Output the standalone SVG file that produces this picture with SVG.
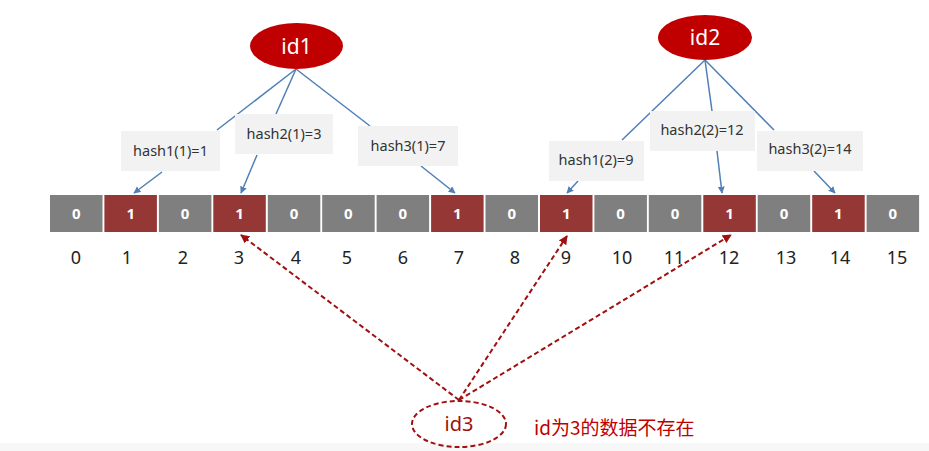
<svg xmlns="http://www.w3.org/2000/svg" width="929" height="451" viewBox="0 0 929 451">
<style>
  .cell0{fill:#7f7f7f}
  .cell1{fill:#953735}
  .bit{font-family:"Noto Sans","Liberation Sans",sans-serif;font-size:15px;font-weight:bold;fill:#fff;text-anchor:middle}
  .idx{font-family:"Noto Sans","Liberation Sans",sans-serif;font-size:18px;fill:#222;text-anchor:middle}
  .lbl{fill:#f2f2f2}
  .lbltxt{font-family:"Noto Sans","Liberation Sans",sans-serif;font-size:14.5px;fill:#333;text-anchor:middle}
  .node{fill:#c00000}
  .nodetxt{font-family:"Noto Sans","Liberation Sans",sans-serif;font-size:21px;fill:#fff;text-anchor:middle}
  .blue{stroke:#4f7fb5;stroke-width:1.5;fill:none}
  .red{stroke:#a01010;stroke-width:2;stroke-dasharray:5 3;fill:none}
</style>
<defs>
  <marker id="ab" viewBox="0 0 10 10" refX="9" refY="5" markerWidth="7" markerHeight="7" orient="auto" markerUnits="userSpaceOnUse">
    <path d="M0,0 L10,5 L0,10 z" fill="#4f7fb5"/>
  </marker>
  <marker id="ar" viewBox="0 0 10 10" refX="9" refY="5" markerWidth="9" markerHeight="9" orient="auto" markerUnits="userSpaceOnUse">
    <path d="M0,0 L10,5 L0,10 z" fill="#a01010"/>
  </marker>
</defs>
<rect x="0" y="0" width="929" height="451" fill="#fff"/>
<rect x="0" y="443" width="929" height="8" fill="#f7f7f7"/>

<g id="connectors">
  <line class="blue" x1="296" y1="69" x2="217" y2="130"/>
  <line class="blue" x1="296" y1="69" x2="276" y2="114"/>
  <line class="blue" x1="296" y1="69" x2="370" y2="126"/>
  <line class="blue" x1="162" y1="172" x2="134" y2="193" marker-end="url(#ab)"/>
  <line class="blue" x1="257" y1="155" x2="241" y2="193" marker-end="url(#ab)"/>
  <line class="blue" x1="421" y1="166" x2="455" y2="193" marker-end="url(#ab)"/>
  <line class="blue" x1="705" y1="60" x2="622" y2="140"/>
  <line class="blue" x1="705" y1="60" x2="712" y2="111"/>
  <line class="blue" x1="705" y1="60" x2="774" y2="130"/>
  <line class="blue" x1="578" y1="181" x2="567" y2="193" marker-end="url(#ab)"/>
  <line class="blue" x1="717" y1="151" x2="722" y2="193" marker-end="url(#ab)"/>
  <line class="blue" x1="814" y1="171" x2="835" y2="193" marker-end="url(#ab)"/>
  <line class="red" x1="459" y1="400" x2="241" y2="235" marker-end="url(#ar)"/>
  <line class="red" x1="459" y1="400" x2="567" y2="236" marker-end="url(#ar)"/>
  <line class="red" x1="459" y1="400" x2="731" y2="235" marker-end="url(#ar)"/>
</g>

<g id="bitarray">
  <rect class="cell0" x="50" y="195" width="52.5" height="37"/>
  <rect class="cell1" x="104.4" y="195" width="52.5" height="37"/>
  <rect class="cell0" x="158.9" y="195" width="52.5" height="37"/>
  <rect class="cell1" x="213.3" y="195" width="52.5" height="37"/>
  <rect class="cell0" x="267.8" y="195" width="52.5" height="37"/>
  <rect class="cell0" x="322.2" y="195" width="52.5" height="37"/>
  <rect class="cell0" x="376.6" y="195" width="52.5" height="37"/>
  <rect class="cell1" x="431.1" y="195" width="52.5" height="37"/>
  <rect class="cell0" x="485.5" y="195" width="52.5" height="37"/>
  <rect class="cell1" x="540" y="195" width="52.5" height="37"/>
  <rect class="cell0" x="594.4" y="195" width="52.5" height="37"/>
  <rect class="cell0" x="648.8" y="195" width="52.5" height="37"/>
  <rect class="cell1" x="703.3" y="195" width="52.5" height="37"/>
  <rect class="cell0" x="757.7" y="195" width="52.5" height="37"/>
  <rect class="cell1" x="812.2" y="195" width="52.5" height="37"/>
  <rect class="cell0" x="866.6" y="195" width="52.5" height="37"/>
  <text class="bit" x="76.2" y="219">0</text>
  <text class="bit" x="130.7" y="219">1</text>
  <text class="bit" x="185.1" y="219">0</text>
  <text class="bit" x="239.6" y="219">1</text>
  <text class="bit" x="294" y="219">0</text>
  <text class="bit" x="348.4" y="219">0</text>
  <text class="bit" x="402.9" y="219">0</text>
  <text class="bit" x="457.3" y="219">1</text>
  <text class="bit" x="511.8" y="219">0</text>
  <text class="bit" x="566.2" y="219">1</text>
  <text class="bit" x="620.6" y="219">0</text>
  <text class="bit" x="675.1" y="219">0</text>
  <text class="bit" x="729.5" y="219">1</text>
  <text class="bit" x="784" y="219">0</text>
  <text class="bit" x="838.4" y="219">1</text>
  <text class="bit" x="892.8" y="219">0</text>
</g>

<g id="indices">
  <text class="idx" x="76" y="264">0</text>
  <text class="idx" x="127" y="264">1</text>
  <text class="idx" x="183" y="264">2</text>
  <text class="idx" x="239" y="264">3</text>
  <text class="idx" x="296" y="264">4</text>
  <text class="idx" x="347" y="264">5</text>
  <text class="idx" x="403" y="264">6</text>
  <text class="idx" x="459" y="264">7</text>
  <text class="idx" x="515" y="264">8</text>
  <text class="idx" x="566" y="264">9</text>
  <text class="idx" x="622" y="264">10</text>
  <text class="idx" x="674" y="264">11</text>
  <text class="idx" x="729" y="264">12</text>
  <text class="idx" x="786" y="264">13</text>
  <text class="idx" x="840" y="264">14</text>
  <text class="idx" x="897" y="264">15</text>
</g>

<g id="id1">
  <ellipse class="node" cx="296.5" cy="46" rx="46.5" ry="23"/>
  <text class="nodetxt" x="296.5" y="53.5">id1</text>
</g>
<g id="id2">
  <ellipse class="node" cx="705" cy="37.5" rx="47" ry="22.5"/>
  <text class="nodetxt" x="705" y="45">id2</text>
</g>
<g id="id3">
  <ellipse cx="459" cy="424" rx="47" ry="23" fill="none" stroke="#a01010" stroke-width="2" stroke-dasharray="5 3"/>
  <text x="459" y="431" text-anchor="middle" font-family="Noto Sans, Liberation Sans, sans-serif" font-size="20" fill="#a01010">id3</text>
</g>

<g id="h11"><rect class="lbl" x="121" y="131" width="99" height="40"/><text class="lbltxt" x="170.5" y="156">hash1(1)=1</text></g>
<g id="h21"><rect class="lbl" x="235" y="114" width="98" height="40"/><text class="lbltxt" x="284" y="139">hash2(1)=3</text></g>
<g id="h31"><rect class="lbl" x="358" y="126" width="100" height="40"/><text class="lbltxt" x="408" y="151">hash3(1)=7</text></g>
<g id="h12"><rect class="lbl" x="549" y="141" width="95" height="40"/><text class="lbltxt" x="596" y="165">hash1(2)=9</text></g>
<g id="h22"><rect class="lbl" x="650" y="111" width="105" height="40"/><text class="lbltxt" x="702" y="135">hash2(2)=12</text></g>
<g id="h32"><rect class="lbl" x="757" y="131" width="106" height="40"/><text class="lbltxt" x="810" y="154">hash3(2)=14</text></g>

<g id="note">
  <text x="534" y="435" font-family="Noto Sans CJK SC, sans-serif" font-size="19" fill="#c00000">id为3的数据不存在</text>
</g>
</svg>
